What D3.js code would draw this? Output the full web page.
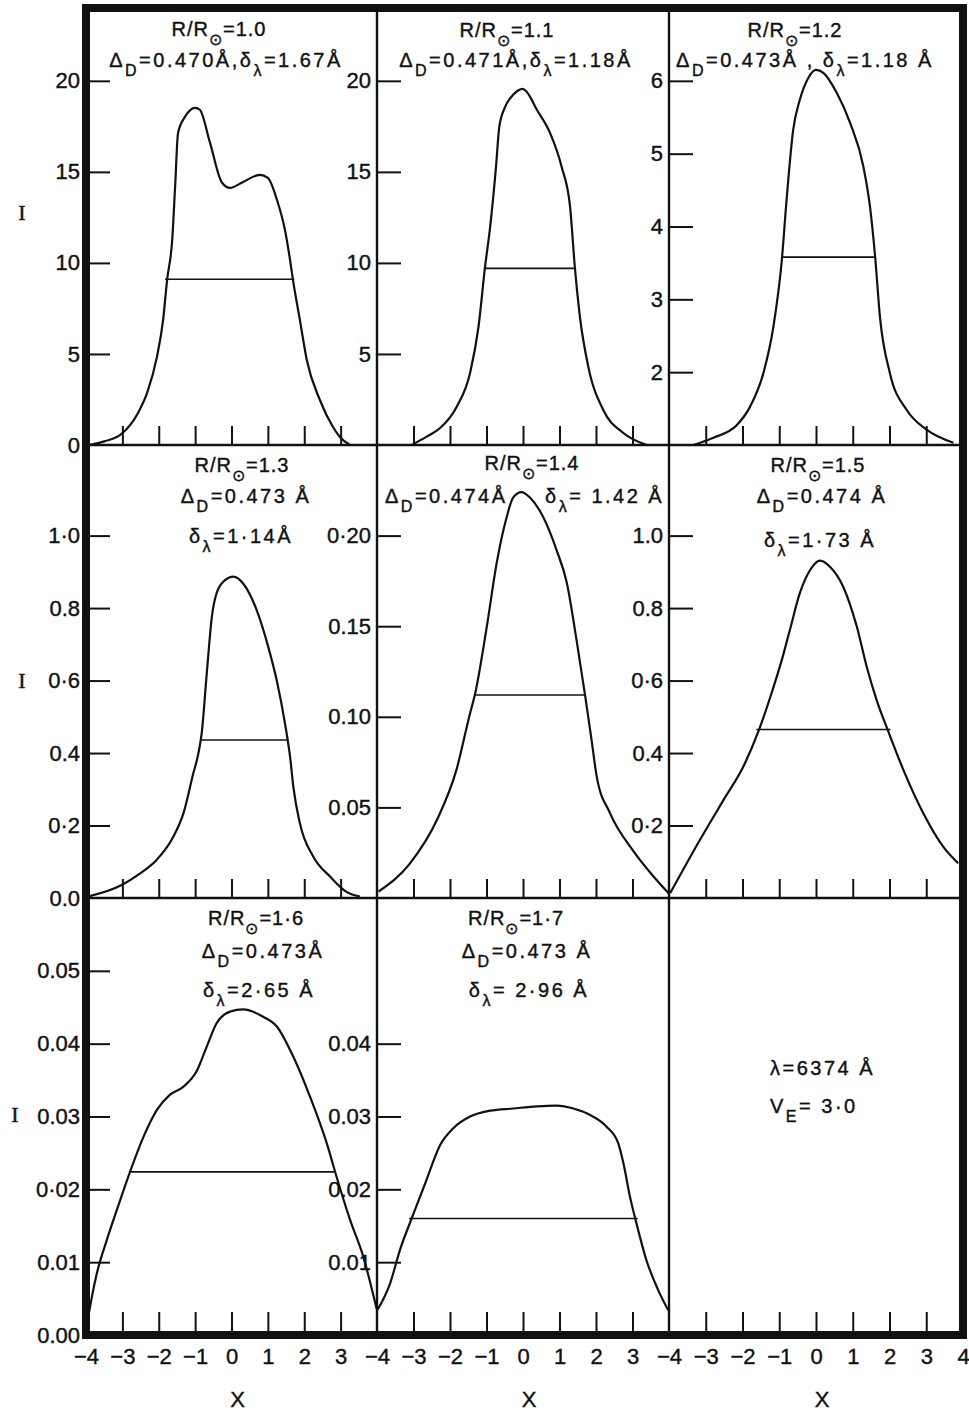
<!DOCTYPE html>
<html>
<head>
<meta charset="utf-8">
<script src="https://cdn.jsdelivr.net/npm/d3@7"></script>
<style>
  body { margin: 0; background: #fff; }
  svg { display: block; background: #fff; }
  .note { font-family: "Liberation Sans", Arial, sans-serif; font-size: 20px; letter-spacing: 2.5px; fill: #111; stroke: #111; stroke-width: 0.4px; }
  .note.title { letter-spacing: 1px; }
  .tick text { font-family: "Liberation Sans", Arial, sans-serif; font-size: 22px; fill: #111; stroke: #111; stroke-width: 0.4px; }
  .axis-title { font-family: "Liberation Sans", Arial, sans-serif; font-size: 22px; fill: #111; stroke: #111; stroke-width: 0.4px; }
  .axis-i { font-family: "Liberation Serif", "Times New Roman", serif; font-size: 22px; fill: #111; stroke: #111; stroke-width: 0.4px; }
</style>
</head>
<body>
<svg id="chart" width="969" height="1416"></svg>
<script>
// Emission-line profiles I(X), X = Δλ / Δ_D, at heights R/R⊙ = 1.0 … 1.7
// (λ 6374 Å, V_E = 3.0). Horizontal bars mark the full width at half maximum.

const radiusLabels = ["1.0", "1.1", "1.2", "1.3", "1.4", "1.5", "1·6", "1·7"];
const dopplerWidths = [0.470, 0.471, 0.473, 0.473, 0.474, 0.474, 0.473, 0.473];   // Δ_D (Å)
const halfWidths    = [1.67, 1.18, 1.18, 1.14, 1.42, 1.73, 2.65, 2.96];           // δλ (Å)
const widthDecimal  = [".", ".", ".", "·", ".", "·", "·", "·"];

const profileR10 = [[-3.9,0],[-3.5,0.2],[-3.06,0.55],[-2.57,1.76],[-2.32,2.86],[-2.05,4.84],[-1.88,6.87],[-1.77,9.07],[-1.63,11.26],[-1.55,14.18],[-1.47,17.14],[-1.28,18.02],[-1.0,18.52],[-0.87,18.41],[-0.59,16.59],[-0.26,14.4],[-0.04,14.12],[0.32,14.45],[0.78,14.84],[1.0,14.67],[1.25,13.46],[1.47,11.81],[1.61,10.16],[1.69,9.07],[1.88,6.87],[2.07,4.67],[2.43,2.47],[2.79,0.99],[2.98,0.44],[3.26,0]];
const profileR11 = [[-3.05,0],[-2.64,0.46],[-2.27,0.93],[-1.82,2.09],[-1.45,3.96],[-1.22,6.48],[-1.04,9.78],[-0.9,11.98],[-0.74,15.27],[-0.65,17.47],[-0.49,18.57],[-0.27,19.23],[-0.01,19.56],[0.1,19.4],[0.38,18.41],[0.74,17.14],[1.06,15.27],[1.29,13.08],[1.42,9.78],[1.56,7.03],[1.79,4.29],[2.2,1.92],[2.75,0.66],[3.39,0]];
const profileR12 = [[-3.34,1.0],[-2.79,1.1],[-2.16,1.27],[-1.8,1.52],[-1.43,1.99],[-1.16,2.62],[-0.93,3.54],[-0.8,4.37],[-0.62,5.33],[-0.44,5.74],[-0.21,6.04],[0,6.15],[0.2,6.11],[0.56,5.84],[0.93,5.42],[1.29,4.82],[1.47,4.27],[1.61,3.58],[1.74,2.76],[2.01,1.99],[2.47,1.48],[3.01,1.21],[3.74,1.03]];
const profileR13 = [[-3.9,0.005],[-3.02,0.036],[-2.51,0.068],[-2.06,0.105],[-1.6,0.169],[-1.32,0.234],[-1.05,0.344],[-0.91,0.399],[-0.82,0.454],[-0.68,0.62],[-0.54,0.776],[-0.41,0.841],[-0.18,0.877],[0.05,0.887],[0.32,0.868],[0.69,0.795],[1.01,0.693],[1.24,0.602],[1.47,0.482],[1.61,0.39],[1.7,0.307],[1.88,0.206],[2.25,0.114],[2.71,0.059],[3.16,0.017],[3.53,0.004]];
const profileR14 = [[-3.96,0.0035],[-3.1,0.019],[-2.36,0.043],[-1.82,0.071],[-1.45,0.102],[-1.32,0.112],[-0.99,0.15],[-0.72,0.185],[-0.45,0.21],[-0.27,0.221],[-0.04,0.224],[0.19,0.221],[0.56,0.21],[0.92,0.192],[1.2,0.174],[1.47,0.142],[1.7,0.112],[1.88,0.087],[2.02,0.067],[2.38,0.047],[3.02,0.026],[3.57,0.012],[3.99,0.0026]];
const profileR15 = [[-3.97,0.013],[-3.16,0.16],[-2.52,0.27],[-1.98,0.362],[-1.57,0.459],[-1.21,0.565],[-0.93,0.657],[-0.71,0.74],[-0.44,0.841],[-0.16,0.905],[0.11,0.931],[0.38,0.914],[0.74,0.859],[1.11,0.749],[1.38,0.638],[1.65,0.546],[1.97,0.459],[2.38,0.353],[2.92,0.234],[3.46,0.142],[3.87,0.096]];
const profileR16 = [[-3.92,0.003],[-3.84,0.0052],[-3.7,0.0085],[-3.43,0.013],[-3.15,0.0172],[-2.79,0.0224],[-2.42,0.0272],[-2.05,0.0309],[-1.69,0.033],[-1.32,0.0341],[-0.96,0.0362],[-0.68,0.0396],[-0.41,0.0428],[-0.04,0.0444],[0.32,0.0447],[0.87,0.0437],[1.24,0.0424],[1.7,0.0382],[2.16,0.0327],[2.62,0.0263],[2.89,0.0217],[3.26,0.0158],[3.62,0.0108],[3.99,0.0036]];
const profileR17 = [[-3.98,0.0035],[-3.64,0.0071],[-3.37,0.0117],[-3.05,0.016],[-2.68,0.0208],[-2.27,0.0261],[-1.91,0.0284],[-1.45,0.03],[-0.9,0.0308],[-0.27,0.0311],[0.38,0.0314],[0.92,0.0315],[1.38,0.0311],[1.84,0.0302],[2.29,0.0286],[2.61,0.0263],[2.75,0.0236],[2.93,0.019],[3.11,0.0153],[3.38,0.0103],[3.7,0.0062],[3.98,0.0034]];
const profiles = [profileR10, profileR11, profileR12, profileR13, profileR14, profileR15, profileR16, profileR17];

const halfLevels  = [9.1, 9.7, 3.58, 0.436, 0.112, 0.465, 0.0224, 0.016];
const halfCenters = [-0.05, 0.18, 0.35, 0.35, 0.19, 0.2, 0.02, 0.01];

const yDomains = [[0, 24], [0, 24], [1, 7], [0, 1.25], [0, 0.25], [0, 1.25], [0, 0.06], [0, 0.06]];
const yTickValues = [
  [0, 5, 10, 15, 20], [5, 10, 15, 20], [2, 3, 4, 5, 6],
  [0, 0.2, 0.4, 0.6, 0.8, 1.0], [0.05, 0.10, 0.15, 0.20], [0.2, 0.4, 0.6, 0.8, 1.0],
  [0, 0.01, 0.02, 0.03, 0.04, 0.05], [0.01, 0.02, 0.03, 0.04]
];
const yTickLabels = [
  ["0", "5", "10", "15", "20"], ["5", "10", "15", "20"], ["2", "3", "4", "5", "6"],
  ["0.0", "0·2", "0.4", "0·6", "0.8", "1·0"], ["0.05", "0.10", "0.15", "0·20"], ["0·2", "0.4", "0·6", "0.8", "1.0"],
  ["0.00", "0.01", "0·02", "0.03", "0.04", "0.05"], ["0.01", "0.02", "0.03", "0.04"]
];
const xInnerTicks = [-3, -2, -1, 0, 1, 2, 3];
const xLabelTicks = [-4, -3, -2, -1, 0, 1, 2, 3];

// ---------------- layout ----------------
const colX = [86, 377, 669, 963];
const rowY = [8, 445, 898, 1335];
const FRAME_W = 8, DIVIDER_W = 2.4;

// annotation placement, offsets from each panel's top-left corner
const noteLayout = [
  { title: [133, 28], lines: [[140, 59, "middle"]] },
  { title: [130, 29], lines: [[139, 59, "middle"]] },
  { title: [126, 29], lines: [[136, 59, "middle"]] },
  { title: [156, 27], lines: [[160, 58, "middle"], [155, 98, "middle"]] },
  { title: [155, 25], lines: [[8, 58, "start"], [168, 58, "start"]] },
  { title: [149, 27], lines: [[153, 58, "middle"], [151, 102, "middle"]] },
  { title: [170, 27], lines: [[177, 60, "middle"], [173, 99, "middle"]] },
  { title: [139, 27], lines: [[150, 60, "middle"], [152, 99, "middle"]] }
];
const deltaSpacer = ["", "", "", " ", "", " ", "", " "];
const lambdaPre   = ["", "", "", "", " ", "", "", " "];
const lambdaPost  = ["", "", " ", "", " ", " ", " ", " "];

const svg = d3.select("#chart");

function richText(g, x, y, anchor, parts, extraClass) {
  const t = g.append("text").attr("class", "note" + (extraClass ? " " + extraClass : ""))
    .attr("x", x).attr("y", y).attr("text-anchor", anchor);
  let inSub = false;
  parts.forEach(([s, sub]) => {
    const ts = t.append("tspan").text(s);
    if (sub) ts.attr("font-size", 16);
    if (sub && !inSub) ts.attr("dy", 9);
    if (!sub && inSub) ts.attr("dy", -9);
    inSub = sub;
  });
  return t;
}

const line = d3.line().curve(d3.curveMonotoneX);

profiles.forEach((prof, p) => {
  const c = p % 3, r = Math.floor(p / 3);
  const x = d3.scaleLinear().domain([-4, 4]).range([colX[c], colX[c + 1]]);
  const y = d3.scaleLinear().domain(yDomains[p]).range([rowY[r + 1], rowY[r]]);
  const g = svg.append("g");

  // profile curve
  line.x(d => x(d[0])).y(d => y(d[1]));
  g.append("path").datum(prof).attr("d", line)
    .attr("fill", "none").attr("stroke", "#111").attr("stroke-width", 2.2)
    .attr("stroke-linejoin", "round");

  // FWHM bar: width in X units = δλ / Δ_D
  const w = halfWidths[p] / dopplerWidths[p];
  g.append("line")
    .attr("x1", x(halfCenters[p] - w / 2)).attr("x2", x(halfCenters[p] + w / 2))
    .attr("y1", y(halfLevels[p])).attr("y2", y(halfLevels[p]))
    .attr("stroke", "#111").attr("stroke-width", 1.6);

  // y axis: inward ticks, labels outside
  const labels = yTickLabels[p];
  const ya = d3.axisLeft(y).tickValues(yTickValues[p])
    .tickFormat((d, i) => labels[i]).tickSize(-24).tickPadding(6);
  const yg = g.append("g").attr("transform", `translate(${colX[c]},0)`).call(ya);
  yg.select(".domain").remove();
  yg.selectAll(".tick line").attr("stroke", "#111").attr("stroke-width", 2)
    .filter(d => d === yDomains[p][0]).remove();

  // annotations
  const L = noteLayout[p], ox = colX[c], oy = rowY[r];
  richText(g, ox + L.title[0], oy + L.title[1], "middle",
    [["R/R", false], ["⊙", true], ["=" + radiusLabels[p], false]], "title");
  const dD = dopplerWidths[p].toFixed(3) + deltaSpacer[p] + "Å";
  const dl = halfWidths[p].toFixed(2).replace(".", widthDecimal[p]);
  const deltaParts = [["Δ", false], ["D", true], ["=" + dD, false]];
  const lambdaParts = [["δ", false], ["λ", true], ["=" + lambdaPre[p] + dl + lambdaPost[p] + "Å", false]];
  if (L.lines.length === 1) {
    const sep = p === 2 ? " , " : ",";
    richText(g, ox + L.lines[0][0], oy + L.lines[0][1], "middle",
      deltaParts.concat([[sep, false]]).concat(lambdaParts));
  } else {
    richText(g, ox + L.lines[0][0], oy + L.lines[0][1], L.lines[0][2], deltaParts);
    richText(g, ox + L.lines[1][0], oy + L.lines[1][1], L.lines[1][2], lambdaParts);
  }
});

// x axes: inward tick marks on every panel, labels under the bottom row
[0, 1, 2].forEach(r => {
  [0, 1, 2].forEach(c => {
    const x = d3.scaleLinear().domain([-4, 4]).range([colX[c], colX[c + 1]]);
    const bottom = r === 2;
    const vals = bottom ? (c === 2 ? xLabelTicks.concat([4]) : xLabelTicks) : xInnerTicks;
    const xa = d3.axisBottom(x).tickValues(vals)
      .tickFormat(d => bottom ? (d < 0 ? "−" + (-d) : String(d)) : "")
      .tickSize(bottom ? -23 : -19).tickPadding(13);
    const xg = svg.append("g").attr("transform", `translate(0,${rowY[r + 1]})`).call(xa);
    xg.select(".domain").remove();
    xg.selectAll(".tick line").attr("stroke", "#111").attr("stroke-width", 2)
      .filter(d => d === -4 || d === 4).remove();
    if (bottom) {
      svg.append("text").attr("class", "axis-title")
        .attr("x", (colX[c] + colX[c + 1]) / 2 + 6).attr("y", 1407)
        .attr("text-anchor", "middle").text("X");
    }
  });
});

// intensity axis labels
[220, 688, 1122].forEach((yy, i) => {
  svg.append("text").attr("class", "axis-i")
    .attr("x", i === 2 ? 15 : 22).attr("y", yy).attr("text-anchor", "middle").text("I");
});

// line parameters in the empty panel
const infoG = svg.append("g");
richText(infoG, colX[2] + 101, rowY[2] + 177, "start",
  [["λ=6374 Å", false]]);
richText(infoG, colX[2] + 101, rowY[2] + 215, "start",
  [["V", false], ["E", true], ["= 3·0", false]]);

// panel dividers and outer frame
[colX[1], colX[2]].forEach(xx => {
  svg.append("line").attr("x1", xx).attr("x2", xx).attr("y1", rowY[0]).attr("y2", rowY[3])
    .attr("stroke", "#111").attr("stroke-width", DIVIDER_W);
});
[rowY[1], rowY[2]].forEach(yy => {
  svg.append("line").attr("x1", colX[0]).attr("x2", colX[3]).attr("y1", yy).attr("y2", yy)
    .attr("stroke", "#111").attr("stroke-width", DIVIDER_W);
});
svg.append("rect")
  .attr("x", colX[0]).attr("y", rowY[0])
  .attr("width", colX[3] - colX[0]).attr("height", rowY[3] - rowY[0])
  .attr("fill", "none").attr("stroke", "#111").attr("stroke-width", FRAME_W);
</script>
</body>
</html>
